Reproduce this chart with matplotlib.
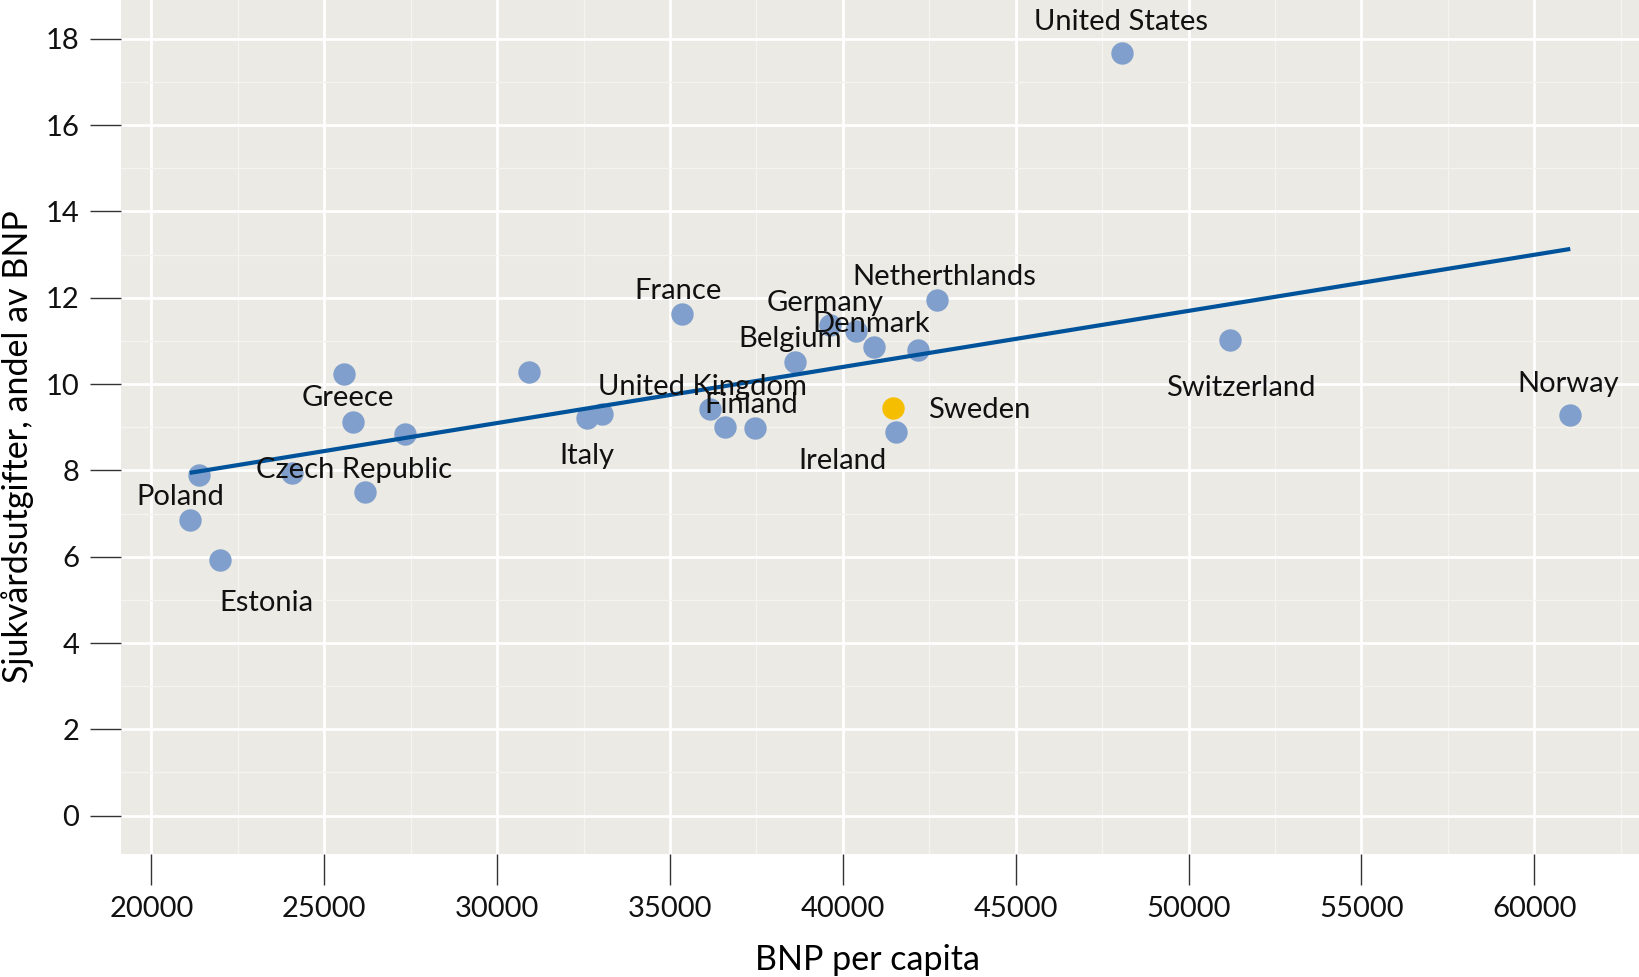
import numpy as np
import matplotlib
matplotlib.use("Agg")
from matplotlib import pyplot as plt
from matplotlib.ticker import MultipleLocator

# data (BNP per capita, health spending as % of BNP)
gdp = [21110, 21379, 21988, 24079, 25574, 25834, 26182, 27338, 30918,
       32605, 33022, 35362, 36152, 36587, 37455, 38621, 39626, 40385,
       40896, 42170, 42712, 41526, 48087, 51203, 61039]
health = [6.85, 7.89, 5.93, 7.93, 10.23, 9.13, 7.49, 8.84, 10.29,
          9.21, 9.30, 11.62, 9.42, 9.01, 8.99, 10.51, 11.37, 11.23,
          10.86, 10.79, 11.95, 8.90, 17.68, 11.01, 9.28]

sweden_gdp = 41438
sweden_health = 9.45

# country labels and where they sit (data units)
labels = ["United States", "Netherthlands", "France", "Germany", "Denmark",
          "Belgium", "United Kingdom", "Finland", "Sweden", "Ireland",
          "Switzerland", "Norway", "Greece", "Czech Republic", "Poland",
          "Estonia", "Italy"]
label_x = [48050, 42936, 35220, 39486, 40818, 38488, 35946, 37337, 43934,
           40001, 51498, 60970, 25688, 25870, 20847, 23328, 32587]
label_y = [18.39, 12.48, 12.16, 11.87, 11.39, 11.05, 9.93, 9.52, 9.40,
           8.21, 9.91, 10.00, 9.67, 8.02, 7.39, 4.92, 8.33]

BG = "#EBEAE4"
POINT = "#809FCC"
SWEDEN = "#F6BE00"
LINE = "#00539B"

plt.rcParams["font.family"] = ["Lato", "DejaVu Sans"]

fig = plt.figure(figsize=(16.4, 9.77), dpi=100)
ax = fig.add_axes([0.0738, 0.1254, 0.9262, 0.8746])
ax.set_facecolor(BG)

# grid
ax.xaxis.set_major_locator(MultipleLocator(5000))
ax.xaxis.set_minor_locator(MultipleLocator(2500))
ax.yaxis.set_major_locator(MultipleLocator(2))
ax.yaxis.set_minor_locator(MultipleLocator(1))
ax.grid(which="major", color="white", linewidth=2.0)
ax.grid(which="minor", color="#F5F4F0", linewidth=1.0)
ax.set_axisbelow(True)

# points
all_x = np.array(gdp + [sweden_gdp])
all_y = np.array(health + [sweden_health])
ax.scatter(gdp, health, s=260, color=POINT, linewidths=0, zorder=3)
ax.scatter([sweden_gdp], [sweden_health], s=260, color=SWEDEN,
           linewidths=0, zorder=3)

# linear fit over the data range
k, m = np.polyfit(all_x, all_y, 1)
xs = np.array([all_x.min(), all_x.max()])
ax.plot(xs, k * xs + m, color=LINE, linewidth=3.0, zorder=4,
        solid_capstyle="butt")

for name, lx, ly in zip(labels, label_x, label_y):
    ax.text(lx, ly, name, ha="center", va="center", fontsize=21,
            color="#111111", zorder=5)

ax.set_xlim(19123, 63056)
ax.set_ylim(-0.9, 18.9)

for s in ax.spines.values():
    s.set_visible(False)

ax.tick_params(which="major", length=22, width=1.0, color="#333333",
               labelsize=21, labelcolor="#111111", pad=8)
ax.tick_params(which="minor", length=0)

ax.set_xlabel("BNP per capita", fontsize=24.5)
ax.set_ylabel("Sjukvårdsutgifter, andel av BNP", fontsize=24.5)
ax.xaxis.set_label_coords(0.4917, -0.105)
ax.yaxis.set_label_coords(-0.057, 0.477)

fig.savefig("out.png", dpi=100)
